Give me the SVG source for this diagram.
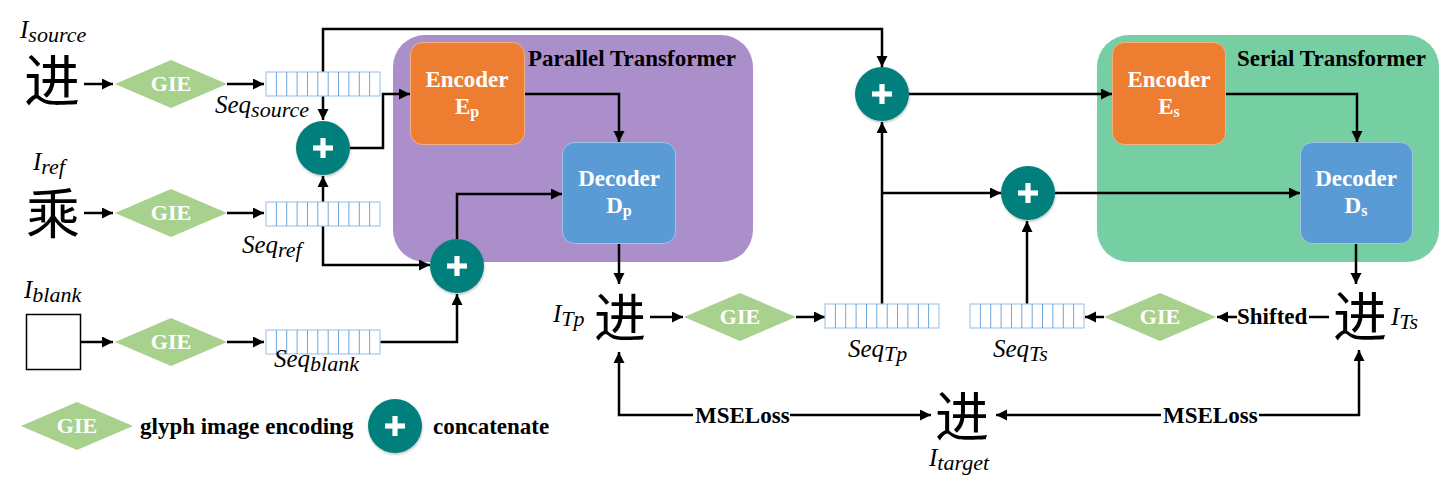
<svg xmlns="http://www.w3.org/2000/svg" xmlns:xlink="http://www.w3.org/1999/xlink" width="1453" height="479" viewBox="0 0 1453 479">
<style>
.ln{fill:none;stroke:#000;stroke-width:2.5}
.ar{marker-end:url(#ah)}
.b{font-family:"Liberation Serif",serif;font-weight:bold;font-size:23px;fill:#000}
.w{font-family:"Liberation Serif",serif;font-weight:bold;fill:#fff;text-anchor:middle}
.gie{font-family:"Liberation Serif",serif;font-weight:bold;font-size:22px;fill:#fff;text-anchor:middle}
.m{font-family:"Liberation Serif",serif;font-style:italic;font-size:25px;fill:#000}
.s{font-size:22px}
.cjk{font-family:"Liberation Serif","Noto Sans CJK SC",sans-serif;fill:#000;text-anchor:middle}
.dia{fill:#A9D18E}
.enc{fill:#ED7D31;stroke:#F4B183;stroke-width:1}
.dec{fill:#5B9BD5;stroke:#9DC3E6;stroke-width:1}
</style>
<defs>
<marker id="ah" markerUnits="userSpaceOnUse" markerWidth="12" markerHeight="12" refX="11" refY="5.5" orient="auto"><path d="M0,0 L11,5.5 L0,11 z" fill="#000"/></marker>
<filter id="sh" x="-30%" y="-30%" width="160%" height="160%"><feDropShadow dx="0.5" dy="1.5" stdDeviation="1.2" flood-color="#000" flood-opacity="0.25"/></filter>
<g id="seq"><rect x="0" y="0" width="114" height="24" fill="#fff" stroke="#A9C9E8" stroke-width="1.2"/><path d="M10.4,0V24M20.7,0V24M31.1,0V24M41.5,0V24M51.8,0V24M62.2,0V24M72.5,0V24M82.9,0V24M93.3,0V24M103.6,0V24" stroke="#6FA5DA" stroke-width="1"/></g>
<g id="plus"><circle r="27" fill="#037F7B" filter="url(#sh)"/><rect x="-10" y="-2.6" width="20" height="5.2" fill="#fff"/><rect x="-2.6" y="-10" width="5.2" height="20" fill="#fff"/></g>
<polygon id="dm" points="0,-24 56,0 0,24 -56,0"/>
</defs>

<!-- containers -->
<g id="parallel_transformer">
<rect x="393" y="35" width="360" height="227" rx="32" fill="#AB8FCA"/>
<text class="b" x="528" y="66">Parallel Transformer</text>
</g>
<g id="serial_transformer">
<rect x="1097" y="35" width="342" height="227" rx="32" fill="#76CFA3"/>
<text class="b" x="1237" y="66">Serial Transformer</text>
</g>

<!-- connectors -->
<g id="connectors">
<path class="ln ar" d="M84,84H113"/>
<path class="ln ar" d="M227,84H264"/>
<path class="ln ar" d="M84,213H113"/>
<path class="ln ar" d="M227,213H264"/>
<path class="ln ar" d="M81,342H113"/>
<path class="ln ar" d="M227,342H264"/>
<path class="ln ar" d="M323,96V120"/>
<path class="ln ar" d="M323,72V29H882V67"/>
<path class="ln ar" d="M350,148H383V94H410"/>
<path class="ln ar" d="M323,202V176"/>
<path class="ln ar" d="M323,226V265H430"/>
<path class="ln ar" d="M380,342H457V294"/>
<path class="ln ar" d="M457,239V194H562"/>
<path class="ln ar" d="M525,94H619V142"/>
<path class="ln ar" d="M619,244V284"/>
<path class="ln ar" d="M650,317H683"/>
<path class="ln ar" d="M796,317H825"/>
<path class="ln ar" d="M882,304V122"/>
<path class="ln ar" d="M882,193H1001"/>
<path class="ln ar" d="M909,94H1112"/>
<path class="ln ar" d="M1055,193H1300"/>
<path class="ln ar" d="M1226,94H1357V142"/>
<path class="ln ar" d="M1027,304V221"/>
<path class="ln ar" d="M1356,244V284"/>
<path class="ln ar" d="M1104,317H1085"/>
<path class="ln" d="M1329,317H1309"/>
<path class="ln ar" d="M1237,317H1217"/>
<text class="b" x="1237" y="324">Shifted</text>
<path class="ln ar" d="M693,415H619V352"/>
<path class="ln ar" d="M790,415H931"/>
<text class="b" x="695" y="423">MSELoss</text>
<path class="ln ar" d="M1161,415H996"/>
<path class="ln ar" d="M1259,415H1359V350"/>
<text class="b" x="1163" y="423">MSELoss</text>
</g>

<!-- inputs -->
<g id="I_source">
<text class="m" x="20" y="38">I<tspan class="s" dy="4">source</tspan></text>
<text class="cjk" x="52" y="101" font-size="56">进</text>
</g>
<g id="I_ref">
<text class="m" x="33" y="170">I<tspan class="s" dy="4">ref</tspan></text>
<text class="cjk" x="53" y="234" font-size="54">乘</text>
</g>
<g id="I_blank">
<text class="m" x="24" y="298">I<tspan class="s" dy="4">blank</tspan></text>
<rect x="26.5" y="314.5" width="54" height="55" fill="#fff" stroke="#000" stroke-width="1.5"/>
</g>

<!-- GIE nodes -->
<g id="gie_source"><use xlink:href="#dm" class="dia" x="171" y="84"/><text class="gie" x="171" y="91">GIE</text></g>
<g id="gie_ref"><use xlink:href="#dm" class="dia" x="171" y="213"/><text class="gie" x="171" y="220">GIE</text></g>
<g id="gie_blank"><use xlink:href="#dm" class="dia" x="171" y="342"/><text class="gie" x="171" y="349">GIE</text></g>
<g id="gie_Tp"><use xlink:href="#dm" class="dia" x="740" y="317"/><text class="gie" x="740" y="324">GIE</text></g>
<g id="gie_Ts"><use xlink:href="#dm" class="dia" x="1160" y="317"/><text class="gie" x="1160" y="324">GIE</text></g>

<!-- sequences -->
<g id="seq_source"><use xlink:href="#seq" x="266" y="72"/><text class="m" x="215" y="113">Seq<tspan class="s" dy="4">source</tspan></text></g>
<g id="seq_ref"><use xlink:href="#seq" x="266" y="202"/><text class="m" x="242" y="253">Seq<tspan class="s" dy="4">ref</tspan></text></g>
<g id="seq_blank"><use xlink:href="#seq" x="266" y="330"/><text class="m" x="274" y="367">Seq<tspan class="s" dy="4">blank</tspan></text></g>
<g id="seq_Tp"><use xlink:href="#seq" x="825" y="304"/><text class="m" x="848" y="357">Seq<tspan class="s" dy="4">Tp</tspan></text></g>
<g id="seq_Ts"><use xlink:href="#seq" x="970" y="304"/><text class="m" x="993" y="357">Seq<tspan class="s" dy="4">Ts</tspan></text></g>

<!-- concat nodes -->
<g id="concat1"><use xlink:href="#plus" x="323" y="148"/></g>
<g id="concat2"><use xlink:href="#plus" x="457" y="266"/></g>
<g id="concat3"><use xlink:href="#plus" x="882" y="94"/></g>
<g id="concat4"><use xlink:href="#plus" x="1028" y="193"/></g>

<!-- transformer blocks -->
<g id="encoder_p">
<rect class="enc" x="410.5" y="42.5" width="114" height="102" rx="12"/>
<text class="w" x="467" y="87" font-size="23">Encoder</text>
<text class="w" x="467" y="114" font-size="23">E<tspan font-size="16" dy="3">p</tspan></text>
</g>
<g id="decoder_p">
<rect class="dec" x="562.5" y="142.5" width="113" height="101" rx="12"/>
<text class="w" x="619" y="186" font-size="23">Decoder</text>
<text class="w" x="619" y="213" font-size="23">D<tspan font-size="16" dy="3">p</tspan></text>
</g>
<g id="encoder_s">
<rect class="enc" x="1112.5" y="42.5" width="113" height="102" rx="12"/>
<text class="w" x="1169" y="87" font-size="23">Encoder</text>
<text class="w" x="1169" y="114" font-size="23">E<tspan font-size="16" dy="3">s</tspan></text>
</g>
<g id="decoder_s">
<rect class="dec" x="1300.5" y="142.5" width="112" height="101" rx="12"/>
<text class="w" x="1356" y="186" font-size="23">Decoder</text>
<text class="w" x="1356" y="213" font-size="23">D<tspan font-size="16" dy="3">s</tspan></text>
</g>

<!-- outputs -->
<g id="I_Tp">
<text class="m" x="553" y="322">I<tspan class="s" dy="4">Tp</tspan></text>
<text class="cjk" x="620" y="337" font-size="52">进</text>
</g>
<g id="I_Ts">
<text class="cjk" x="1360" y="337" font-size="54">进</text>
<text class="m" x="1391" y="325">I<tspan class="s" dy="4">Ts</tspan></text>
</g>
<g id="I_target">
<text class="cjk" x="962" y="437" font-size="54">进</text>
<text class="m" x="929" y="466">I<tspan class="s" dy="4">target</tspan></text>
</g>

<!-- legend -->
<g id="legend">
<use xlink:href="#dm" class="dia" x="77" y="426"/>
<text class="gie" x="77" y="433">GIE</text>
<text class="b" x="140" y="434">glyph image encoding</text>
<use xlink:href="#plus" x="395" y="426"/>
<text class="b" x="433" y="434">concatenate</text>
</g>
</svg>
